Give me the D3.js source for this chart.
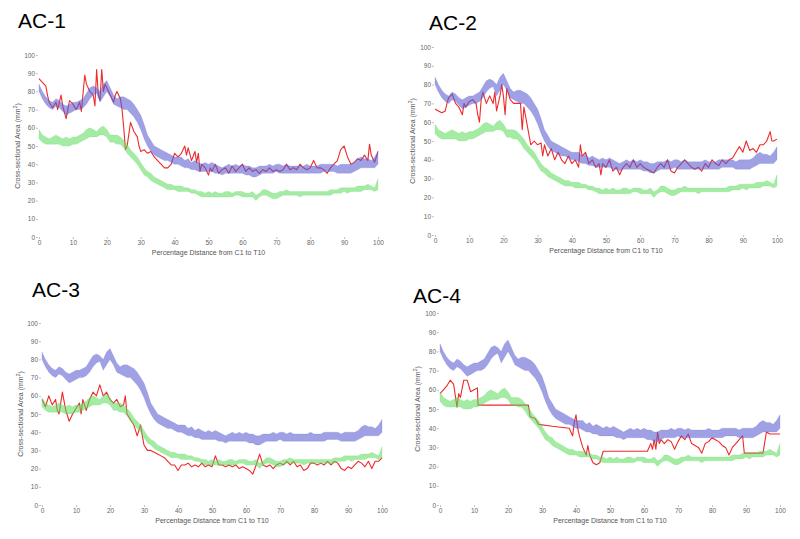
<!DOCTYPE html>
<html><head><meta charset="utf-8">
<script src="https://cdn.jsdelivr.net/npm/d3@7"></script>
<style>body{margin:0;background:#fff}svg{display:block}</style>
</head><body>
<svg id="c" width="800" height="539"></svg>
<script>
// ---------- DATA ----------
const pct = [0,1,2,3,4,5,6,7,8,9,10,11,12,13,14,15,16,17,18,19,20,21,22,23,24,25,26,27,28,29,30,31,32,33,34,35,36,37,38,39,40,41,42,43,44,45,46,47,48,49,50,51,52,53,54,55,56,57,58,59,60,61,62,63,64,65,66,67,68,69,70,71,72,73,74,75,76,77,78,79,80,81,82,83,84,85,86,87,88,89,90,91,92,93,94,95,96,97,98,99,100];
const blueUpper = [84,80,77,75,74,76,75,73,72,73,74,74,75,76,79,82,83,82,80,84,86,82,78,76,77,77,76,75,73,70,67,62,56,53,50,49,48,47,46,45,44,44,44,42,43,41,42,41,40,41,40,41,40,39,38,39,40,39,40,39,40,39,39,38,38,39,39,39,40,39,40,40,39,40,39,39,39,39,39,40,39,39,39,40,40,40,40,40,39,40,40,40,40,41,43,44,43,43,42,44,47];
const blueLower = [80,76,73,71,70,72,71,69,67,68,69,70,70,71,73,76,78,79,74,77,80,77,73,72,71,70,70,68,66,63,59,54,50,47,45,44,43,42,42,41,40,40,39,38,38,37,37,36,36,36,36,36,35,35,34,35,35,35,35,35,35,34,34,33,33,34,35,35,35,35,36,35,35,35,35,35,35,35,35,35,35,35,35,35,36,36,36,36,35,35,35,35,35,36,37,38,38,38,38,38,40];
const greenUpper = [59,56,55,54,55,56,55,54,55,54,55,55,56,57,59,60,59,58,60,61,59,56,56,56,55,53,51,48,46,44,41,38,36,35,33,32,31,30,29,29,28,28,28,27,27,26,26,25,25,24,25,24,25,24,24,25,25,24,25,25,25,24,24,25,23,24,26,26,25,24,24,25,25,26,25,25,25,25,25,25,25,25,25,25,25,25,26,26,26,27,27,27,27,27,28,28,28,29,28,27,32];
const greenLower = [54,52,51,51,51,51,51,50,50,50,51,51,52,53,54,55,55,55,56,56,55,52,52,51,51,49,46,44,42,40,37,34,33,31,30,29,28,27,26,26,26,25,25,25,25,24,24,23,22,22,22,22,22,22,22,22,22,22,23,23,22,22,22,22,20,22,23,23,22,21,21,22,23,23,23,23,23,22,23,23,23,23,23,23,23,23,23,24,24,24,25,24,25,25,25,25,26,26,26,25,26];

const ac1 = [[0,87],[1,85],[2,83],[2.5,78],[3,74],[4,71],[5,74],[5.5,70],[6,74],[6.5,78],[7,72],[8,65],[8.5,70],[9,75],[10,73],[11,70],[12,74],[12.5,69],[13,79],[13.5,89],[14,84],[15,80],[16,78],[16.5,72],[17,92],[17.5,78],[18,75],[18.5,92],[19,80],[19.5,84],[20,82],[21,78],[22,74],[22.5,78],[23,80],[24,76],[24.5,70],[25,60],[25.5,48],[26,50],[27,63],[28,58],[29,55],[29.5,50],[30,47],[31,48],[32,46],[33,47],[34,44],[35,42],[36,40],[37,38],[38,38],[39,40],[40,46],[41,44],[42,46],[43,50],[43.5,45],[44,49],[45,42],[46,47],[46.5,41],[47,46],[47.5,36],[48,40],[49,38],[50,34],[50.5,38],[51,36],[52,40],[53,35],[54,37],[55,38],[56,35],[57,39],[58,36],[59,38],[60,40],[61,36],[62,38],[63,36],[64,37],[65,35],[66,37],[67,36],[68,38],[69,36],[70,37],[71,36],[72,37],[73,40],[74,37],[75,38],[76,37],[77,40],[78,38],[79,37],[80,38],[81,42],[82,38],[83,38],[84,37],[85,35],[86,38],[87,40],[88,42],[89,48],[90,50],[91,44],[92,40],[93,41],[94,43],[95,42],[96,45],[97,42],[97.5,51],[98,45],[99,41],[100,47]];
const ac2 = [[0,67],[1,66],[2,65],[3,66],[3.5,70],[4,73],[5,75],[6,70],[7,68],[8,64],[8.5,70],[9,68],[10,71],[11,72],[12,70],[12.5,64],[13,60],[13.5,72],[14,76],[15,70],[16,74],[17,70],[17.5,76],[18,66],[19,74],[19.5,80],[20,74],[20.5,64],[21,78],[22,72],[23,70],[24,70],[25,70],[25.5,56],[26,68],[27,58],[28,48],[29,50],[30,48],[31,49],[31.5,42],[32,48],[33,42],[34,46],[35,40],[36,44],[37,40],[38,38],[39,42],[40,38],[41,40],[42,36],[42.5,48],[43,42],[44,44],[45,38],[46,40],[47,36],[48,38],[48.5,32],[49,38],[50,36],[51,40],[52,34],[53,36],[54,32],[55,36],[56,38],[57,36],[58,40],[59,36],[60,38],[61,36],[62,35],[63,34],[64,33],[65,36],[66,38],[67,36],[68,40],[69,34],[70,33],[71,36],[72,38],[73,40],[74,38],[75,36],[76,35],[77,36],[78,34],[79,38],[80,36],[81,40],[82,38],[83,37],[84,40],[85,38],[86,40],[87,41],[88,44],[89,47],[90,44],[91,50],[92,45],[93,46],[94,44],[95,48],[96,48],[97,50],[98,55],[98.5,50],[99,50],[100,51]];
const ac3 = [[0,58],[1,54],[2,60],[3,55],[4,58],[4.5,52],[5,50],[6,62],[7,52],[8,46],[9,50],[10,53],[11,56],[11.5,50],[12,58],[13,52],[14,58],[15,62],[16,60],[17,66],[18,60],[19,62],[20,58],[21,56],[22,58],[23,54],[24,55],[24.5,60],[25,50],[26,47],[27,44],[28,38],[29,44],[29.5,38],[30,33],[31,30],[32,30],[33,29],[34,28],[35,27],[36,26],[37,24],[38,22],[39,22],[40,19],[41,22],[42,22],[43,23],[44,21],[45,22],[46,21],[47,23],[48,21],[49,22],[50,21],[51,27],[52,22],[53,22],[54,21],[55,22],[56,21],[57,22],[58,20],[59,21],[60,20],[61,19],[62,17],[63,22],[64,28],[65,22],[66,21],[67,22],[68,20],[69,22],[70,23],[71,22],[72,24],[73,22],[74,24],[75,21],[76,22],[77,19],[78,20],[79,23],[80,23],[81,22],[82,23],[83,22],[84,24],[85,22],[86,24],[87,23],[88,20],[89,19],[90,21],[91,20],[92,22],[93,24],[94,23],[95,21],[96,24],[97,20],[98,24],[99,24],[100,26]];
const ac4 = [[0,58],[1,60],[2,62],[3,65],[4,63],[4.5,57],[5,51],[5.5,58],[6,56],[7,65],[8,65],[9,59],[10,60],[11,61],[11.2,52],[26,52],[26.5,46],[28,45],[29,42],[33,41],[38,40],[39,36],[39.5,43],[40,47],[40.5,40],[41,36],[42,30],[43,26],[43.5,31],[44,26],[45,22],[46,21],[47,22],[48,28],[58,28],[61,28],[62,32],[62.5,29],[63,34],[63.5,29],[64,38],[64.5,32],[65,34],[66,32],[67,34],[68,33],[69,29],[70,33],[71,36],[72,34],[73,37],[74,32],[75,31],[76,30],[77,27],[78,32],[79,33],[80,35],[81,34],[82,33],[83,31],[84,30],[85,26],[86,30],[87,32],[88,34],[89,36],[89.5,27],[95,27],[96,38],[97,37],[100,37]];

const titles = ["AC-1","AC-2","AC-3","AC-4"];
const redSeries = [ac1, ac2, ac3, ac4];
const xTicks = [0,10,20,30,40,50,60,70,80,90,100];
const yTicks = [0,10,20,30,40,50,60,70,80,90,100];
const xTitle = "Percentage Distance from C1 to T10";
const yTitle = "Cross-sectional Area (mm";

// ---------- LAYOUT ----------
const panels = [
  {x0:39, x1:378, y0:237, y1:55, tx:18, ty:28, ytx:20},
  {x0:435, x1:777, y0:235, y1:47, tx:429, ty:30, ytx:415},
  {x0:42, x1:382, y0:505, y1:323, tx:32, ty:297, ytx:23},
  {x0:440, x1:780, y0:505, y1:313, tx:413, ty:303, ytx:420}
];

const svg = d3.select("#c");
const font = "Liberation Sans, Arial, sans-serif";

panels.forEach((p, i) => {
  const g = svg.append("g");
  const x = d3.scaleLinear().domain([0,100]).range([p.x0, p.x1]);
  const y = d3.scaleLinear().domain([0,100]).range([p.y0, p.y1]);

  // title
  g.append("text").attr("x", p.tx).attr("y", p.ty).text(titles[i])
    .attr("font-family", font).attr("font-size", 21).attr("fill", "#000");

  // red measured line (drawn first, bands overlay with transparency)
  const line = d3.line().x(d => x(d[0])).y(d => y(d[1]));
  g.append("path").datum(redSeries[i]).attr("d", line)
    .attr("fill", "none").attr("stroke", "#ee2a2a").attr("stroke-width", 1.1)
    .attr("stroke-linejoin", "round");

  // bands
  const bandData = pct.map((v, k) => ({x: v, bl: blueLower[k], bu: blueUpper[k], gl: greenLower[k], gu: greenUpper[k]}));
  const blueArea = d3.area().x(d => x(d.x)).y0(d => y(d.bl)).y1(d => y(d.bu));
  const greenArea = d3.area().x(d => x(d.x)).y0(d => y(d.gl)).y1(d => y(d.gu));
  g.append("path").datum(bandData).attr("d", blueArea)
    .attr("fill", "rgb(92,92,208)").attr("fill-opacity", 0.58)
    .attr("stroke", "rgb(110,110,210)").attr("stroke-opacity", 0.35).attr("stroke-width", 0.6);
  g.append("path").datum(bandData).attr("d", greenArea)
    .attr("fill", "rgb(90,218,90)").attr("fill-opacity", 0.55)
    .attr("stroke", "rgb(100,210,100)").attr("stroke-opacity", 0.35).attr("stroke-width", 0.6);

  // axes
  const xa = g.append("g").attr("transform", `translate(0,${p.y0})`)
    .call(d3.axisBottom(x).tickValues(xTicks).tickSize(2).tickPadding(1).tickFormat(d3.format("d")));
  const ya = g.append("g").attr("transform", `translate(${p.x0 - 1},0)`)
    .call(d3.axisLeft(y).tickValues(yTicks).tickSize(2).tickPadding(1).tickFormat(d3.format("d")));
  [xa, ya].forEach(a => {
    a.select(".domain").remove();
    a.selectAll("line").attr("stroke", "#999").attr("stroke-width", 0.6);
    a.selectAll("text").attr("font-family", font).attr("font-size", 6.5).attr("fill", "#666");
  });

  // axis titles
  g.append("text").attr("x", (p.x0 + p.x1) / 2).attr("y", p.y0 + 18)
    .attr("text-anchor", "middle").attr("font-family", font).attr("font-size", 7)
    .attr("fill", "#555").text(xTitle);
  const yt = g.append("text")
    .attr("transform", `translate(${p.ytx},${(p.y0 + p.y1) / 2}) rotate(-90)`)
    .attr("text-anchor", "middle").attr("font-family", font).attr("font-size", 7)
    .attr("fill", "#555");
  yt.append("tspan").text(yTitle);
  yt.append("tspan").attr("dy", -3).attr("font-size", 5).text("2");
  yt.append("tspan").attr("dy", 3).text(")");
});
</script>
</body></html>
